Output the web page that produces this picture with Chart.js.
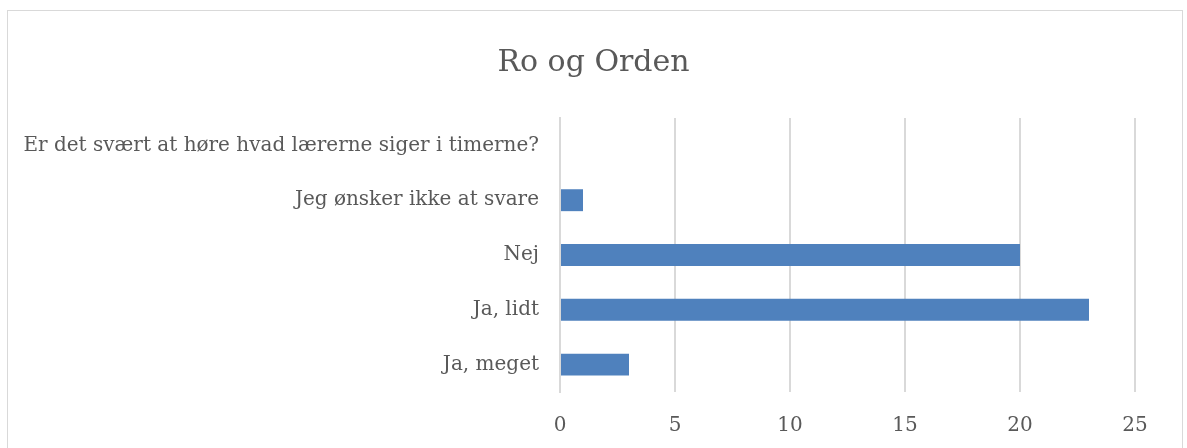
<!DOCTYPE html>
<html lang="da">
<head>
    <meta charset="UTF-8">
    <title>Ro og Orden</title>
    <script src="https://cdn.jsdelivr.net/npm/chart.js"></script>
    <style>
        body {
            margin: 0;
            background: #fff;
            width: 1187px;
            height: 448px;
            overflow: hidden;
            position: relative;
        }

        /* chart frame, bottom edge runs off the picture */
        .frame {
            position: absolute;
            left: 7px;
            top: 10px;
            width: 1174px;
            height: 470px;
            border: 1px solid #d9d9d9;
        }

        #roChart {
            position: absolute;
            left: 0;
            top: 0;
        }
    </style>
</head>
<body>
    <div class="frame"></div>
    <canvas id="roChart" width="1187" height="448"></canvas>

<script>
const chartTitle = 'Ro og Orden';
const categories = [
  'Er det svært at høre hvad lærerne siger i timerne?',
  'Jeg ønsker ikke at svare',
  'Nej',
  'Ja, lidt',
  'Ja, meget'
];
const answers = [null, 1, 20, 23, 3];
const xTicks = [0, 5, 10, 15, 20, 25];

const fontFamily = '"DejaVu Serif", serif';
const textColor = '#595959';
const gridColor = '#d9d9d9';

const ctx = document.getElementById('roChart').getContext('2d');
new Chart(ctx, {
  type: 'bar',
  data: {
    labels: categories,
    datasets: [{
      data: answers,
      backgroundColor: '#4f81bd',
      borderWidth: 0,
      categoryPercentage: 0.8,
      barPercentage: 0.5
    }]
  },
  options: {
    indexAxis: 'y',
    responsive: false,
    animation: false,
    layout: { padding: { left: 8, right: 8, top: 0, bottom: 0 } },
    scales: {
      x: {
        min: xTicks[0],
        max: xTicks[xTicks.length - 1],
        afterBuildTicks: scale => { scale.ticks = xTicks.map(v => ({ value: v })); },
        grid: { color: gridColor, lineWidth: 2, drawTicks: false },
        border: { display: false },
        ticks: { color: textColor, padding: 22, font: { family: fontFamily, size: 20 } },
        afterFit: scale => { scale.height = 56; }
      },
      y: {
        grid: { display: false, drawTicks: false },
        border: { display: true, color: gridColor, width: 2 },
        ticks: { color: textColor, padding: 21, font: { family: fontFamily, size: 20 } },
        afterFit: scale => { scale.width = 552; }
      },
      // empty right-hand spacer so the title stays centred on the page
      yRight: {
        position: 'right',
        grid: { display: false, drawTicks: false },
        border: { display: false },
        ticks: { display: false },
        afterFit: scale => { scale.width = 44; }
      }
    },
    plugins: {
      legend: { display: false },
      tooltip: { enabled: false },
      title: {
        display: true,
        text: chartTitle,
        color: textColor,
        font: { family: fontFamily, size: 30, weight: 'normal' },
        padding: { top: 45, bottom: 37 }
      }
    }
  }
});
</script>
</body>
</html>
